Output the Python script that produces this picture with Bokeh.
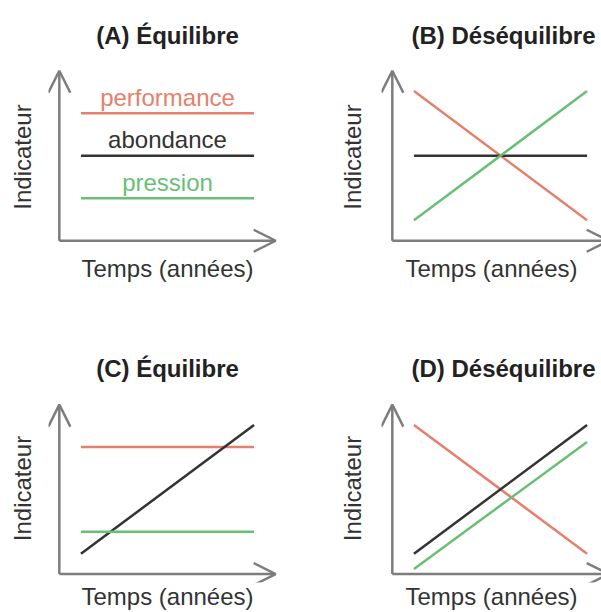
from bokeh.plotting import figure
from bokeh.layouts import column, row
from bokeh.models import Arrow, OpenHead, Label, FixedTicker, Range1d
from bokeh.embed import file_html
from bokeh.resources import INLINE

# ---------------- data ----------------
titles = ["(A) Équilibre", "(B) Déséquilibre", "(C) Équilibre", "(D) Déséquilibre"]
x_label = "Temps (années)"
y_label = "Indicateur"
series_names = ["performance", "abondance", "pression"]
time_points = [1, 9]
axis_end = 10

A_performance = [7.5, 7.5]
A_abondance = [5.0, 5.0]
A_pression = [2.5, 2.5]

B_performance = [8.8, 1.2]
B_abondance = [5.0, 5.0]
B_pression = [1.2, 8.8]

C_performance = [7.5, 7.5]
C_abondance = [1.2, 8.8]
C_pression = [2.5, 2.5]

D_performance = [8.8, 1.2]
D_abondance = [1.2, 8.8]
D_pression = [0.3, 7.8]

# ---------------- style ----------------
GRAY = "#7d7d7d"
RED = "#e5806c"
GREEN = "#6abf76"
DARK = "#333333"
FONT = "Liberation Sans"
COLORS = [RED, DARK, GREEN]


def make_panel(title, values, width, height, bl, br, bt, bb, x_end, y_start,
               x_standoff, y_standoff, title_align, title_offset,
               title_standoff, show_names):
    p = figure(width=width, height=height,
               x_range=Range1d(-0.5, x_end), y_range=Range1d(y_start, 10.6),
               output_backend="svg", toolbar_location=None,
               min_border_left=bl, min_border_right=br,
               min_border_top=bt, min_border_bottom=bb)
    p.outline_line_color = None
    p.grid.visible = False
    p.background_fill_color = "white"
    p.border_fill_color = "white"

    p.title.text = title
    p.title.align = title_align
    p.title.offset = title_offset
    p.title.standoff = title_standoff
    p.title.vertical_align = "middle"
    p.title.text_font = FONT
    p.title.text_font_size = "24px"
    p.title.text_font_style = "bold"
    p.title.text_color = "#222222"

    for ax in (p.xaxis[0], p.yaxis[0]):
        ax.ticker = FixedTicker(ticks=[])
        ax.axis_line_color = None
        ax.major_tick_out = 0
        ax.major_tick_in = 0
        ax.minor_tick_out = 0
        ax.minor_tick_in = 0
        ax.major_label_standoff = 0
        ax.axis_label_text_font = FONT
        ax.axis_label_text_font_size = "24px"
        ax.axis_label_text_font_style = "normal"
        ax.axis_label_text_color = DARK
    p.xaxis[0].axis_label = x_label
    p.yaxis[0].axis_label = y_label
    p.xaxis[0].axis_label_standoff = x_standoff
    p.yaxis[0].axis_label_standoff = y_standoff

    # axes drawn as arrows
    head_kw = dict(size=22, line_color=GRAY, line_width=2.5)
    p.add_layout(Arrow(end=OpenHead(**head_kw), x_start=0, y_start=0,
                       x_end=0, y_end=axis_end, line_color=GRAY, line_width=2.5))
    p.add_layout(Arrow(end=OpenHead(**head_kw), x_start=0, y_start=0,
                       x_end=axis_end, y_end=0, line_color=GRAY, line_width=2.5))

    for name, vals, col in zip(series_names, values, COLORS):
        p.line(time_points, vals, line_color=col, line_width=2.5)
        if show_names:
            p.add_layout(Label(x=sum(time_points) / 2, y=vals[0], y_offset=16,
                               text=name, text_align="center",
                               text_baseline="middle",
                               text_color=col, text_font=FONT,
                               text_font_size="24px"))
    return p


# top row: frame 60..253 ; bottom row: frame 394..582
pA = make_panel(titles[0], [A_performance, A_abondance, A_pression],
                333, 306, 48, 47, 60, 53, 10.5, -0.75, 1, 13,
                "center", 0, 22, True)
pB = make_panel(titles[1], [B_performance, B_abondance, B_pression],
                268, 306, 48, 0, 60, 53, 9.667, -0.75, 1, 16,
                "right", 6, 22, False)
pC = make_panel(titles[2], [C_performance, C_abondance, C_pression],
                333, 306, 48, 47, 88, 30, 10.5, -0.5, 0, 13,
                "center", 0, 24, False)
pD = make_panel(titles[3], [D_performance, D_abondance, D_pression],
                268, 306, 48, 0, 88, 30, 9.667, -0.5, 0, 16,
                "right", 6, 24, False)

layout = column(row(pA, pB), row(pC, pD))

open("out.html", "w").write(file_html(layout, INLINE))
